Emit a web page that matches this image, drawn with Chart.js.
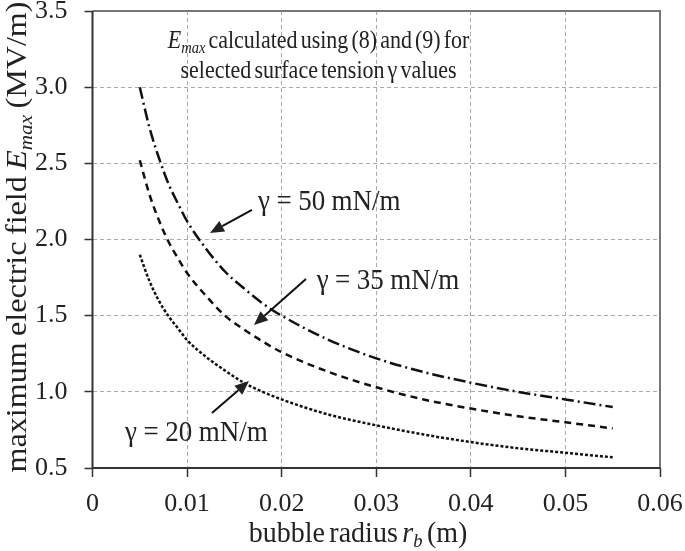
<!DOCTYPE html>
<html><head><meta charset="utf-8">
<script src="https://cdn.jsdelivr.net/npm/chart.js@4.4.0/dist/chart.umd.min.js"></script>
<style>html,body{margin:0;padding:0;background:#fff}#wrap{width:685px;height:551px}</style>
</head><body><div id="wrap"><canvas id="c" width="685" height="551"></canvas></div>
<script>
// ---- data ----
const radius  = [0.005,0.006,0.007,0.008,0.009,0.010,0.012,0.014,0.016,0.018,0.020,0.025,0.030,0.035,0.040,0.045,0.050,0.055];
const gamma50 = [3.00, 2.74, 2.54, 2.37, 2.24, 2.12, 1.94, 1.79, 1.68, 1.58, 1.50, 1.34, 1.22, 1.13, 1.06, 1.00, 0.95, 0.90];
const gamma35 = [2.52, 2.30, 2.13, 1.99, 1.88, 1.78, 1.63, 1.50, 1.41, 1.33, 1.26, 1.13, 1.03, 0.95, 0.89, 0.84, 0.80, 0.76];
const gamma20 = [1.90, 1.73, 1.60, 1.50, 1.42, 1.34, 1.23, 1.14, 1.06, 1.00, 0.95, 0.85, 0.78, 0.72, 0.67, 0.63, 0.60, 0.57];
const xTicks = [0, 0.01, 0.02, 0.03, 0.04, 0.05, 0.06];
const yTicks = [0.5, 1.0, 1.5, 2.0, 2.5, 3.0, 3.5];
const seriesLabels = ['γ = 50 mN/m', 'γ = 35 mN/m', 'γ = 20 mN/m'];

const FONT = '"Liberation Serif", "Times New Roman", serif';

const pts = arr => radius.map((r, i) => ({x: r, y: arr[i]}));

// draws mixed italic / subscript text, with adjustable word gap and glyph stretch
function drawRich(ctx, parts, x, y, size, align, spaceEm, sx, sy) {
  sx = sx || 1; sy = sy || 1;
  const segs = [];
  parts.forEach(p => {
    const fs = p.sub ? size * 0.66 : size;
    const f = (p.italic ? 'italic ' : '') + fs + 'px ' + FONT;
    ctx.font = f;
    const words = p.t.split(' ');
    words.forEach((w, i) => {
      if (i > 0) segs.push({t: '', f, w: size * spaceEm, dy: 0});
      if (w) segs.push({t: w, f, w: ctx.measureText(w).width, dy: p.sub ? size * 0.28 : 0});
    });
  });
  const total = segs.reduce((s, g) => s + g.w, 0);
  ctx.save();
  ctx.translate(x, y);
  ctx.scale(sx, sy);
  let cx = align === 'center' ? -total / 2 : 0;
  ctx.textAlign = 'left';
  ctx.textBaseline = 'middle';
  segs.forEach(g => { if (g.t) { ctx.font = g.f; ctx.fillText(g.t, cx, g.dy); } cx += g.w; });
  ctx.restore();
}

function arrow(ctx, x1, y1, x2, y2) {
  const ang = Math.atan2(y2 - y1, x2 - x1);
  const L = 14, W = 6;
  const bx = x2 - L * Math.cos(ang), by = y2 - L * Math.sin(ang);
  ctx.beginPath(); ctx.moveTo(x1, y1); ctx.lineTo(bx, by); ctx.stroke();
  ctx.beginPath();
  ctx.moveTo(x2, y2);
  ctx.lineTo(bx + W * Math.sin(ang), by - W * Math.cos(ang));
  ctx.lineTo(bx - W * Math.sin(ang), by + W * Math.cos(ang));
  ctx.closePath(); ctx.fill();
}

// annotation positions in data units
const notes = [
  {label: seriesLabels[0], tx: 0.0175, ty: 2.246, ax1: 0.01686, ay1: 2.194, ax2: 0.01242, ay2: 2.043},
  {label: seriesLabels[1], tx: 0.0237, ty: 1.728, ax1: 0.02257, ay1: 1.741, ax2: 0.01707, ay2: 1.439},
  {label: seriesLabels[2], tx: 0.00344, ty: 0.730, ax1: 0.01263, ay1: 0.861, ax2: 0.01654, ay2: 1.071}
];

const decor = {
  id: 'decor',
  afterDraw(chart) {
    const {ctx, chartArea: a, scales: {x, y}} = chart;
    ctx.save();
    // frame
    ctx.strokeStyle = '#777'; ctx.lineWidth = 2;
    ctx.beginPath(); ctx.moveTo(a.left, a.top); ctx.lineTo(a.right, a.top); ctx.lineTo(a.right, a.bottom); ctx.stroke();
    ctx.strokeStyle = '#333'; ctx.lineWidth = 2;
    ctx.beginPath(); ctx.moveTo(a.left, a.top); ctx.lineTo(a.left, a.bottom); ctx.lineTo(a.right, a.bottom); ctx.stroke();

    ctx.fillStyle = '#222'; ctx.strokeStyle = '#111';
    // header text
    drawRich(ctx, [{t: 'E', italic: true}, {t: 'max', italic: true, sub: true}, {t: ' calculated using (8) and (9) for'}],
      x.getPixelForValue(0.0239), y.getPixelForValue(3.30), 22, 'center', 0.14, 1, 1.15);
    drawRich(ctx, [{t: 'selected surface tension γ values'}],
      x.getPixelForValue(0.0239), y.getPixelForValue(3.106), 22, 'center', 0.14, 1, 1.15);
    // series notes
    ctx.lineWidth = 2;
    notes.forEach(n => {
      drawRich(ctx, [{t: n.label}], x.getPixelForValue(n.tx), y.getPixelForValue(n.ty), 27, 'left', 0.24, 1, 1.08);
      arrow(ctx, x.getPixelForValue(n.ax1), y.getPixelForValue(n.ay1), x.getPixelForValue(n.ax2), y.getPixelForValue(n.ay2));
    });
    // axis titles
    drawRich(ctx, [{t: 'bubble radius '}, {t: 'r', italic: true}, {t: 'b', italic: true, sub: true}, {t: ' (m)'}],
      358, 534, 28, 'center', 0.16, 1, 1.05);
    ctx.translate(18, 237);
    ctx.rotate(-Math.PI / 2);
    drawRich(ctx, [{t: 'maximum electric field '}, {t: 'E', italic: true}, {t: 'max', italic: true, sub: true}, {t: ' (MV/m)'}],
      0, 0, 30, 'center', 0.2, 1.07, 1);
    ctx.restore();
  }
};

new Chart(document.getElementById('c'), {
  type: 'line',
  data: {
    datasets: [
      {label: seriesLabels[0], data: pts(gamma50), borderColor: '#111', borderWidth: 2.5, borderDash: [12, 4, 2, 4], pointRadius: 0, cubicInterpolationMode: 'monotone', fill: false},
      {label: seriesLabels[1], data: pts(gamma35), borderColor: '#111', borderWidth: 2.5, borderDash: [7, 5], pointRadius: 0, cubicInterpolationMode: 'monotone', fill: false},
      {label: seriesLabels[2], data: pts(gamma20), borderColor: '#111', borderWidth: 2.5, borderDash: [3, 2], pointRadius: 0, cubicInterpolationMode: 'monotone', fill: false}
    ]
  },
  options: {
    responsive: false, animation: false, devicePixelRatio: 1,
    layout: {padding: {top: 11, right: 25, left: 0, bottom: 0}},
    plugins: {legend: {display: false}, tooltip: {enabled: false}},
    scales: {
      x: {
        type: 'linear', min: 0, max: 0.06,
        afterBuildTicks: s => { s.ticks = xTicks.map(v => ({value: v})); },
        afterFit: s => { s.height = 83; s.paddingLeft = 0; s.paddingRight = 0; },
        ticks: {font: {family: FONT, size: 26}, color: '#222', padding: 12, maxRotation: 0,
          callback: v => v === 0 ? '0' : v.toFixed(2)},
        grid: {color: '#aaa', lineWidth: 1, tickLength: 9, tickColor: '#333', tickWidth: 1.5, tickBorderDash: []},
        border: {display: false, dash: [4, 3]}
      },
      y: {
        type: 'linear', min: 0.5, max: 3.5,
        afterBuildTicks: s => { s.ticks = yTicks.map(v => ({value: v})); },
        afterFit: s => { s.width = 92.5; s.paddingTop = 0; s.paddingBottom = 0; },
        ticks: {font: {family: FONT, size: 26}, color: '#222', padding: 17,
          callback: v => v.toFixed(1)},
        grid: {color: '#aaa', lineWidth: 1, tickLength: 8, tickColor: '#333', tickWidth: 1.5, tickBorderDash: []},
        border: {display: false, dash: [4, 3]}
      }
    }
  },
  plugins: [decor]
});
</script>
</body></html>
